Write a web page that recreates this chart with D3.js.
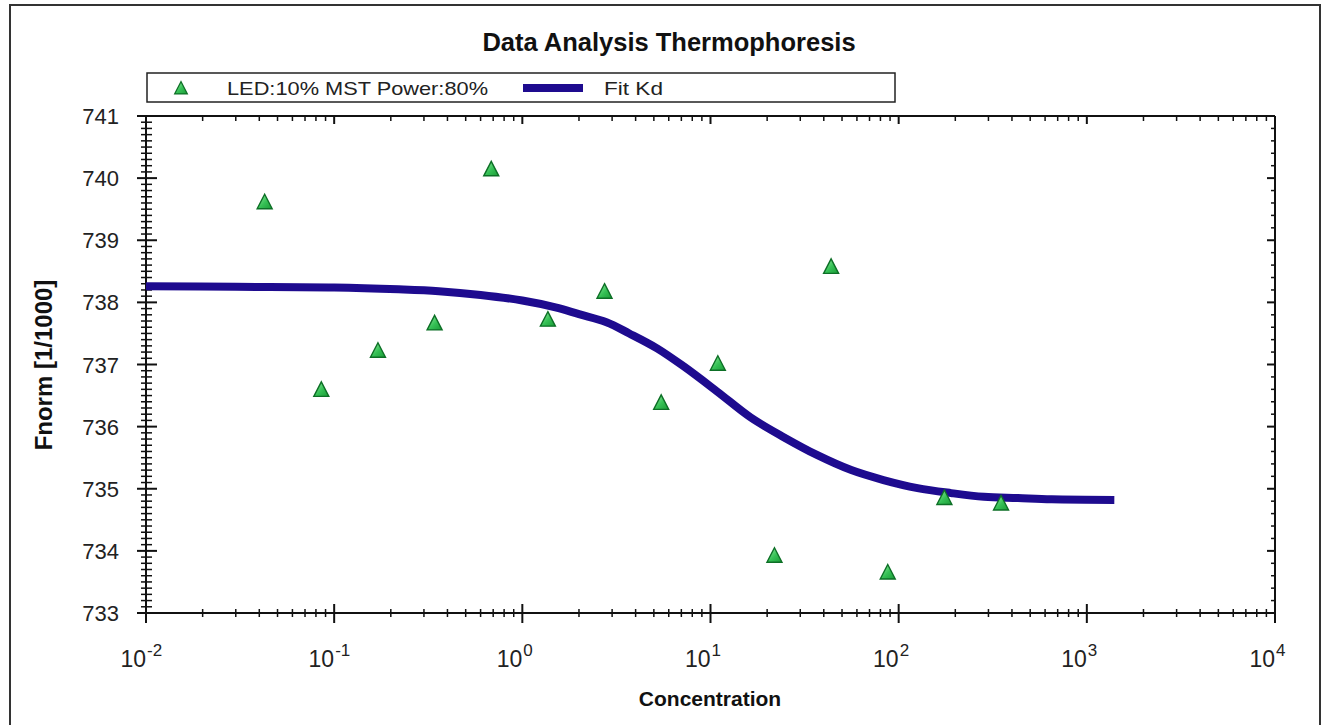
<!DOCTYPE html>
<html>
<head>
<meta charset="utf-8">
<script src="https://cdn.jsdelivr.net/npm/d3@7/dist/d3.min.js"></script>
<style>
  html, body { margin: 0; padding: 0; background: #fff; }
  svg { display: block; font-family: "Liberation Sans", Arial, sans-serif; }
</style>
</head>
<body>
<svg id="chart" width="1323" height="725"></svg>
<script>
// ---- data ----
const title = "Data Analysis Thermophoresis";
const xLabel = "Concentration";
const yLabel = "Fnorm [1/1000]";
const seriesName = "LED:10% MST Power:80%";
const fitName = "Fit Kd";

const concentrations = [0.04272, 0.08545, 0.1709, 0.3418, 0.6836, 1.367, 2.734, 5.469, 10.94, 21.875, 43.75, 87.5, 175, 350];
const fnorm = [739.62, 736.60, 737.23, 737.67, 740.15, 737.73, 738.18, 736.39, 737.02, 733.93, 738.58, 733.66, 734.86, 734.77];

const fitConc = [0.01, 0.03, 0.1, 0.22, 0.36, 0.6, 1.0, 1.5, 2.0, 2.8, 3.7, 5.2, 7.2, 10.9, 16.3, 24.5, 37, 56, 83, 126, 190, 284, 430, 650, 1400];
const fitVal  = [738.26, 738.25, 738.24, 738.21, 738.18, 738.12, 738.03, 737.92, 737.81, 737.68, 737.50, 737.26, 736.97, 736.56, 736.15, 735.83, 735.54, 735.30, 735.14, 735.01, 734.93, 734.87, 734.85, 734.83, 734.82];

const xMajorTicks = [0.01, 0.1, 1, 10, 100, 1000, 10000];
const xTickExponents = ["-2", "-1", "0", "1", "2", "3", "4"];
const yMajorTicks = [733, 734, 735, 736, 737, 738, 739, 740, 741];

// ---- layout ----
const svg = d3.select("#chart");
const L = 146, R = 1275, T = 116, B = 613;
const x = d3.scaleLog().domain([0.01, 10000]).range([L, R]);
const y = d3.scaleLinear().domain([733, 741]).range([B, T]);

const lineColor = "#1e0b8f";

// outer frame
svg.append("rect").attr("x", 10).attr("y", 5).attr("width", 1310).attr("height", 740)
  .attr("fill", "none").attr("stroke", "#333").attr("stroke-width", 2);

// defs: triangle gradient
const defs = svg.append("defs");
const grad = defs.append("linearGradient").attr("id", "triGrad")
  .attr("x1", "0").attr("y1", "0").attr("x2", "1").attr("y2", "1");
grad.append("stop").attr("offset", "0%").attr("stop-color", "#9af0a6");
grad.append("stop").attr("offset", "55%").attr("stop-color", "#35c055");
grad.append("stop").attr("offset", "100%").attr("stop-color", "#1a9a36");

const triPath = "M0,-7.5 L7.5,7 L-7.5,7 Z";

// title
svg.append("text").attr("x", 669).attr("y", 51).attr("text-anchor", "middle")
  .attr("font-size", 25.5).attr("font-weight", "bold").attr("fill", "#111")
  .text(title);

// legend
svg.append("rect").attr("x", 147).attr("y", 73).attr("width", 748).attr("height", 29)
  .attr("fill", "#fff").attr("stroke", "#222").attr("stroke-width", 1.5);
svg.append("path").attr("d", triPath).attr("transform", "translate(181,88) scale(0.85)")
  .attr("fill", "url(#triGrad)").attr("stroke", "#0d6f26").attr("stroke-width", 1.4);
svg.append("text").attr("x", 227).attr("y", 95).attr("font-size", 19).attr("fill", "#222")
  .attr("textLength", 261).attr("lengthAdjust", "spacingAndGlyphs").text(seriesName);
svg.append("line").attr("x1", 523).attr("x2", 583).attr("y1", 88).attr("y2", 88)
  .attr("stroke", lineColor).attr("stroke-width", 8);
svg.append("text").attr("x", 604).attr("y", 95).attr("font-size", 19).attr("fill", "#222")
  .attr("textLength", 59).attr("lengthAdjust", "spacingAndGlyphs").text(fitName);

// axes group
const g = svg.append("g").attr("stroke", "#111");

// minor ticks for x
const xMinor = [];
for (let i = 0; i < xMajorTicks.length - 1; i++) {
  const base = xMajorTicks[i];
  [2, 3, 4, 5, 6, 7, 8, 9].forEach(m => xMinor.push(base * m));
}
const yMinorL = [];
const yMinorR = [];
for (let v = 733; v < 741; v += 1) {
  for (let k = 1; k < 10; k++) yMinorL.push(v + k / 10);
  for (let k = 1; k < 5; k++) yMinorR.push(v + k / 5);
}

// bottom axis
g.append("line").attr("x1", L).attr("x2", R).attr("y1", B).attr("y2", B).attr("stroke-width", 2);
g.selectAll(".xmaj").data(xMajorTicks).join("line")
  .attr("x1", d => x(d)).attr("x2", d => x(d)).attr("y1", B - 9).attr("y2", B + 10).attr("stroke-width", 2);
g.selectAll(".xmin").data(xMinor).join("line")
  .attr("x1", d => x(d)).attr("x2", d => x(d)).attr("y1", B - 4).attr("y2", B + 4).attr("stroke-width", 1.5);
// top axis
g.append("line").attr("x1", L).attr("x2", R).attr("y1", T).attr("y2", T).attr("stroke-width", 2);
g.selectAll(".xmajT").data(xMajorTicks).join("line")
  .attr("x1", d => x(d)).attr("x2", d => x(d)).attr("y1", T).attr("y2", T + 8).attr("stroke-width", 2);
g.selectAll(".xminT").data(xMinor).join("line")
  .attr("x1", d => x(d)).attr("x2", d => x(d)).attr("y1", T).attr("y2", T + 5).attr("stroke-width", 1.5);
// left axis
g.append("line").attr("x1", L).attr("x2", L).attr("y1", T).attr("y2", B).attr("stroke-width", 2);
g.selectAll(".ymaj").data(yMajorTicks).join("line")
  .attr("x1", L - 9).attr("x2", L + 11).attr("y1", d => y(d)).attr("y2", d => y(d)).attr("stroke-width", 2);
g.selectAll(".ymin").data(yMinorL).join("line")
  .attr("x1", L - 5).attr("x2", L + 6).attr("y1", d => y(d)).attr("y2", d => y(d)).attr("stroke-width", 1.5);
// right axis
g.append("line").attr("x1", R).attr("x2", R).attr("y1", T).attr("y2", B).attr("stroke-width", 2);
g.selectAll(".ymajR").data(yMajorTicks).join("line")
  .attr("x1", R - 8).attr("x2", R).attr("y1", d => y(d)).attr("y2", d => y(d)).attr("stroke-width", 2);
g.selectAll(".yminR").data(yMinorR).join("line")
  .attr("x1", R - 4).attr("x2", R).attr("y1", d => y(d)).attr("y2", d => y(d)).attr("stroke-width", 1.5);

// y tick labels
svg.selectAll(".ylab").data(yMajorTicks).join("text")
  .attr("x", 119).attr("y", d => y(d) + 8).attr("text-anchor", "end")
  .attr("font-size", 22).attr("fill", "#222").text(d => d);

// x tick labels (10^n)
const xl = svg.selectAll(".xlab").data(xMajorTicks).join("g")
  .attr("transform", d => `translate(${x(d)},0)`);
xl.append("text").attr("x", 0).attr("y", 667).attr("text-anchor", "end")
  .attr("font-size", 23).attr("fill", "#222").text("10");
xl.append("text").attr("x", 1).attr("y", 656).attr("text-anchor", "start")
  .attr("font-size", 17).attr("fill", "#222").text((d, i) => xTickExponents[i]);

// axis titles
svg.append("text").attr("x", 710).attr("y", 706).attr("text-anchor", "middle")
  .attr("font-size", 21).attr("font-weight", "bold").attr("fill", "#111").text(xLabel);
svg.append("text").attr("transform", "translate(52,365) rotate(-90)").attr("text-anchor", "middle")
  .attr("font-size", 24).attr("font-weight", "bold").attr("fill", "#111").text(yLabel);

// fit curve
const fitData = fitConc.map((c, i) => [c, fitVal[i]]);
const line = d3.line().x(d => x(d[0])).y(d => y(d[1])).curve(d3.curveCatmullRom.alpha(0.5));
svg.append("path").datum(fitData).attr("d", line)
  .attr("fill", "none").attr("stroke", lineColor).attr("stroke-width", 8);

// points
const pts = concentrations.map((c, i) => [c, fnorm[i]]);
svg.selectAll(".pt").data(pts).join("path")
  .attr("d", triPath)
  .attr("transform", d => `translate(${x(d[0])},${y(d[1])})`)
  .attr("fill", "url(#triGrad)").attr("stroke", "#0d6f26").attr("stroke-width", 1.4);
</script>
</body>
</html>
